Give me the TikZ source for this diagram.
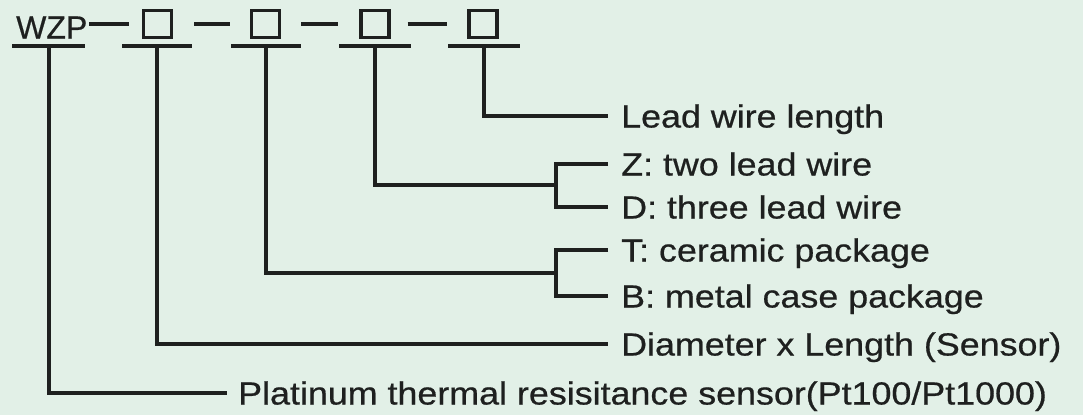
\documentclass[tikz,border=0pt]{standalone}
\usepackage{fontspec}
\setmainfont[FakeStretch=1.12,FakeBold=0.6]{Liberation Sans}
\newfontfamily\codefont[FakeBold=0.6]{Liberation Sans}
\usepackage{xcolor}
\definecolor{ink}{RGB}{30,32,31}
\definecolor{paper}{RGB}{226,240,231}

\begin{document}
\begin{tikzpicture}[
  x=1pt, y=-1pt,
  wire/.style={draw=ink, line width=3.2pt},
  slot/.style={draw=ink, line width=3.2pt, minimum width=28pt, minimum height=27pt, inner sep=0pt},
  desc/.style={anchor=west, inner sep=0pt, text height=23pt, text depth=0pt, text=ink, font=\fontsize{32}{38}\selectfont},
  code/.style={desc, font=\codefont\fontsize{32}{38}\selectfont}
]
\fill[paper] (0,0) rectangle (1083,415);
\useasboundingbox (0,0) rectangle (1083,415);

% model code
\node[code] (wzp) at (16,27) {WZP};
\node[slot] (b1) at (157.5,24) {};
\node[slot] (b2) at (265.5,24) {};
\node[slot] (b3) at (375,24)   {};
\node[slot] (b4) at (483,24)   {};

\draw[wire, shorten <=2pt, shorten >=13pt] (wzp.east |- b1.west) -- (b1.west);
\draw[wire, shorten <=21pt, shorten >=20pt] (b1.east) -- (b2.west);
\draw[wire, shorten <=20pt, shorten >=21pt] (b2.east) -- (b3.west);
\draw[wire, shorten <=17pt, shorten >=20pt] (b3.east) -- (b4.west);

\coordinate (u0) at (49,46);
\coordinate (u1) at (157,46);
\coordinate (u2) at (266,46);
\coordinate (u3) at (375,46);
\coordinate (u4) at (484,46);
\draw[wire] ([xshift=-37pt]u0) -- ([xshift=36pt]u0);
\draw[wire] ([xshift=-35pt]u1) -- ([xshift=35pt]u1);
\draw[wire] ([xshift=-35pt]u2) -- ([xshift=35pt]u2);
\draw[wire] ([xshift=-36pt]u3) -- ([xshift=36pt]u3);
\draw[wire] ([xshift=-36pt]u4) -- ([xshift=36pt]u4);

% descriptions
\node[desc] (lead)   at (621,116) {Lead wire length};
\node[desc] (ztwo)   at (621,164) {Z: two lead wire};
\node[desc] (dthree) at (621,207) {D: three lead wire};
\node[desc] (tcer)   at (621,250) {T: ceramic package};
\node[desc] (bmetal) at (621,296) {B: metal case package};
\node[desc] (diam)   at (621,344) {Diameter x Length (Sensor)};
\node[desc] (plat)   at (238,393) {Platinum thermal resisitance sensor(Pt100/Pt1000)};

\coordinate (jzd) at (556,185);
\coordinate (jtb) at (556,273);

\draw[wire] (u4) |- ([xshift=-13pt]lead.west);
\draw[wire] (u3) |- (jzd);
\draw[wire] ([xshift=-13pt]ztwo.west) -| (jzd) |- ([xshift=-13pt]dthree.west);
\draw[wire] (u2) |- (jtb);
\draw[wire] ([xshift=-13pt]tcer.west) -| (jtb) |- ([xshift=-13pt]bmetal.west);
\draw[wire] (u1) |- ([xshift=-13pt]diam.west);
\draw[wire] (u0) |- ([xshift=-11pt]plat.west);
\end{tikzpicture}
\end{document}
